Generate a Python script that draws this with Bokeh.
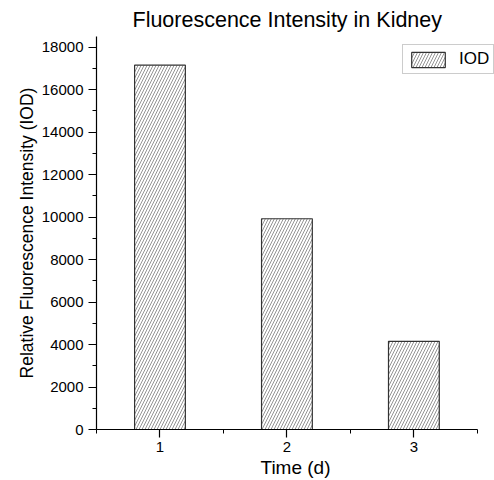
from bokeh.plotting import figure
from bokeh.models import ColumnDataSource, FixedTicker, Legend, LegendItem, Range1d
from bokeh.embed import file_html
from bokeh.resources import INLINE

days = [1, 2, 3]
iod = [17150, 9920, 4150]
y_ticks = [0, 2000, 4000, 6000, 8000, 10000, 12000, 14000, 16000, 18000]
y_minor = [1000, 3000, 5000, 7000, 9000, 11000, 13000, 15000, 17000]
x_minor = [0.5, 1.5, 2.5, 3.5]

FONT = "Liberation Sans"

p = figure(width=494, height=480, output_backend="svg", toolbar_location=None,
           x_range=Range1d(0.5, 3.635), y_range=Range1d(0, 18500),
           min_border_left=96, min_border_right=0, min_border_top=32, min_border_bottom=50)

src = ColumnDataSource(dict(x=days, top=iod))
r = p.vbar(x="x", top="top", width=0.4, bottom=0, source=src,
           fill_color="white", line_color="#333333", line_width=1.2,
           hatch_pattern="/", hatch_color="#888888", hatch_scale=6, hatch_weight=0.9)

p.title.text = "Fluorescence Intensity in Kidney"
p.title.text_font = FONT
p.title.text_font_size = "21.5px"
p.title.text_font_style = "normal"
p.title.text_color = "black"
p.title.align = "left"
p.title.offset = 36

p.xaxis.axis_label = "Time (d)"
p.yaxis.axis_label = "Relative Fluorescence Intensity (IOD)"
for ax in (p.xaxis, p.yaxis):
    ax.axis_label_text_font = FONT
    ax.axis_label_text_font_style = "normal"
    ax.axis_label_text_color = "black"
    ax.major_label_text_font = FONT
    ax.major_label_text_font_size = "15px"
    ax.major_label_text_color = "black"
    ax.axis_line_color = "black"
    ax.axis_line_width = 1.2
    ax.major_tick_line_color = "black"
    ax.minor_tick_line_color = "black"
    ax.major_tick_line_width = 1.2
    ax.major_tick_in = 0
    ax.major_tick_out = 8
    ax.minor_tick_in = 0
    ax.minor_tick_out = 4

p.xaxis.axis_label_text_font_size = "19px"
p.yaxis.axis_label_text_font_size = "17.5px"
p.xaxis.bounds = (0.5, 3.5)
p.xaxis.ticker = FixedTicker(ticks=days, minor_ticks=x_minor)
p.yaxis.ticker = FixedTicker(ticks=y_ticks, minor_ticks=y_minor)
p.xaxis.axis_label_standoff = 2
p.yaxis.axis_label_standoff = 2
p.xaxis.major_label_standoff = 4

p.xgrid.visible = False
p.ygrid.visible = False
p.outline_line_color = None

legend = Legend(items=[LegendItem(label="IOD", renderers=[r])], location=(306, 355),
                label_text_font=FONT, label_text_font_size="17px", label_text_color="black",
                glyph_width=42, glyph_height=19, padding=4, margin=0,
                border_line_color="#999999", border_line_width=1,
                label_standoff=10)
p.add_layout(legend, "center")

open("out.html", "w").write(file_html(p, INLINE))
